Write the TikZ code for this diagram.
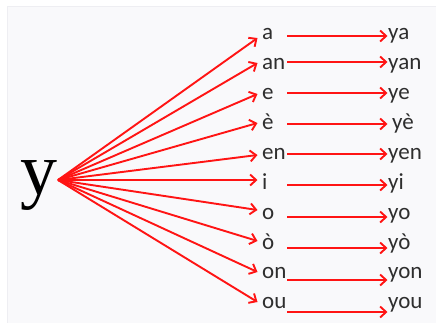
\documentclass[tikz,border=0pt]{standalone}
\usepackage{fontspec}
\setmainfont{Carlito}
\newfontfamily\bigserif{Liberation Serif}
\usetikzlibrary{arrows.meta}
\definecolor{bgfill}{HTML}{F9F9FB}
\definecolor{bgline}{HTML}{EEEEF2}
\definecolor{txt}{HTML}{2E2E2E}
\definecolor{arrred}{HTML}{FF1414}
\tikzset{
  arr/.style={draw=arrred, line width=1.9pt, -{Straight Barb[length=6pt,width=11pt,line width=1.9pt]}},
  lab/.style={inner sep=0pt, anchor=base west, text=txt, font=\fontsize{23}{23}\selectfont},
}
\begin{document}
\begin{tikzpicture}[x=1pt,y=-1pt]
\useasboundingbox (0,0) rectangle (436,322);
\fill[white] (0,0) rectangle (436,322);
\filldraw[fill=bgfill, draw=bgline, line width=0.8pt] (7.5,6.5) rectangle (440,330);
\node[inner sep=0pt, anchor=base, font=\bigserif\fontsize{74}{74}\selectfont] (y) at (38.5,194) {y};
\coordinate (o) at (58,180);
\foreach \k/\l/\r/\rx/\b/\t/\h in {
  1/a/ya/388/39.5/38/36,
  2/an/yan/388/69.5/63/62,
  3/e/ye/388/99.5/94/93,
  4/è/yè/392/129.5/123/124,
  5/en/yen/388/159.5/155/154,
  6/i/yi/388/189.5/180/185,
  7/o/yo/388/219.5/210/217,
  8/ò/yò/388/249.5/241/248,
  9/on/yon/388/278.5/272/280,
  10/ou/you/388/308.5/302/312}{
  \node[lab] (l\k) at (262,\b) {\l};
  \node[lab] (r\k) at (\rx,\b) {\r};
  \coordinate (t\k) at (257.5,\t);
  \coordinate (s\k) at (287,\h);
  \coordinate (e\k) at (387.5,\h);
  \draw[arr] (o) -- (t\k);
  \draw[arr] (s\k) -- (e\k);
}
\end{tikzpicture}
\end{document}
